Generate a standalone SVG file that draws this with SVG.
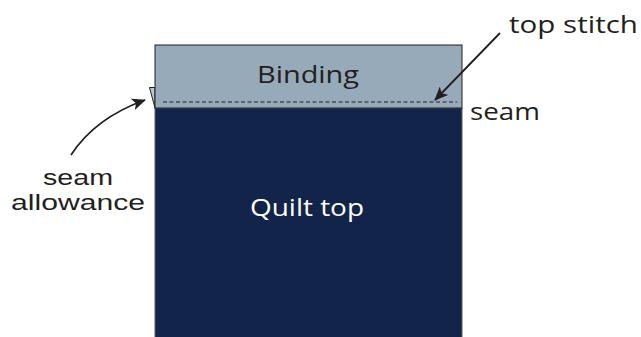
<svg xmlns="http://www.w3.org/2000/svg" width="641" height="337" viewBox="0 0 641 337">
<style>
.lbl{font-family:"Open Sans","Liberation Sans",sans-serif;font-size:24px;fill:#231f20}
.lbls{font-family:"Liberation Sans",Arial,sans-serif;font-size:22px;fill:#231f20}
.lblw{font-family:"Open Sans","Liberation Sans",sans-serif;font-size:24px;fill:#ffffff}
.conn{fill:none;stroke:#231f20;stroke-width:1.8}
</style>
<defs>
<marker id="ah" viewBox="0 0 14 12" refX="13" refY="6" markerWidth="14" markerHeight="12" markerUnits="userSpaceOnUse" orient="auto">
<path d="M0,0 L14,6 L0,12 L3.5,6 Z" fill="#231f20"/>
</marker>
</defs>
<rect width="641" height="337" fill="#ffffff"/>
<g id="quilt-top">
<rect x="155" y="108" width="307" height="232" fill="#12244a" stroke="#555c6e" stroke-width="1"/>
<text class="lblw" x="307" y="216" text-anchor="middle" textLength="114" lengthAdjust="spacingAndGlyphs">Quilt top</text>
</g>
<g id="allowance">
<polygon points="149.5,87.5 155,87.5 155,108" fill="#b9c6d2" stroke="#231f20" stroke-width="1"/>
</g>
<g id="binding">
<rect x="155" y="45" width="307" height="63" fill="#97aaba" stroke="#231f20" stroke-width="1"/>
<line x1="163" y1="102" x2="457" y2="102" stroke="#231f20" stroke-width="1" stroke-dasharray="4,2.5"/>
<text class="lbl" x="308" y="83" text-anchor="middle" textLength="102" lengthAdjust="spacingAndGlyphs">Binding</text>
</g>
<g id="labels">
<text class="lbl" x="509" y="33" textLength="129" lengthAdjust="spacingAndGlyphs">top stitch</text>
<text class="lbl" x="470" y="120" textLength="70" lengthAdjust="spacingAndGlyphs">seam</text>
<text class="lbls" x="78" y="185" text-anchor="middle" textLength="70" lengthAdjust="spacingAndGlyphs">seam</text>
<text class="lbls" x="78" y="210" text-anchor="middle" textLength="134" lengthAdjust="spacingAndGlyphs">allowance</text>
</g>
<g id="connectors">
<path class="conn" d="M71,155 Q95,118 145,100" marker-end="url(#ah)"/>
<path class="conn" d="M500,33 L435,100" marker-end="url(#ah)"/>
</g>
</svg>
